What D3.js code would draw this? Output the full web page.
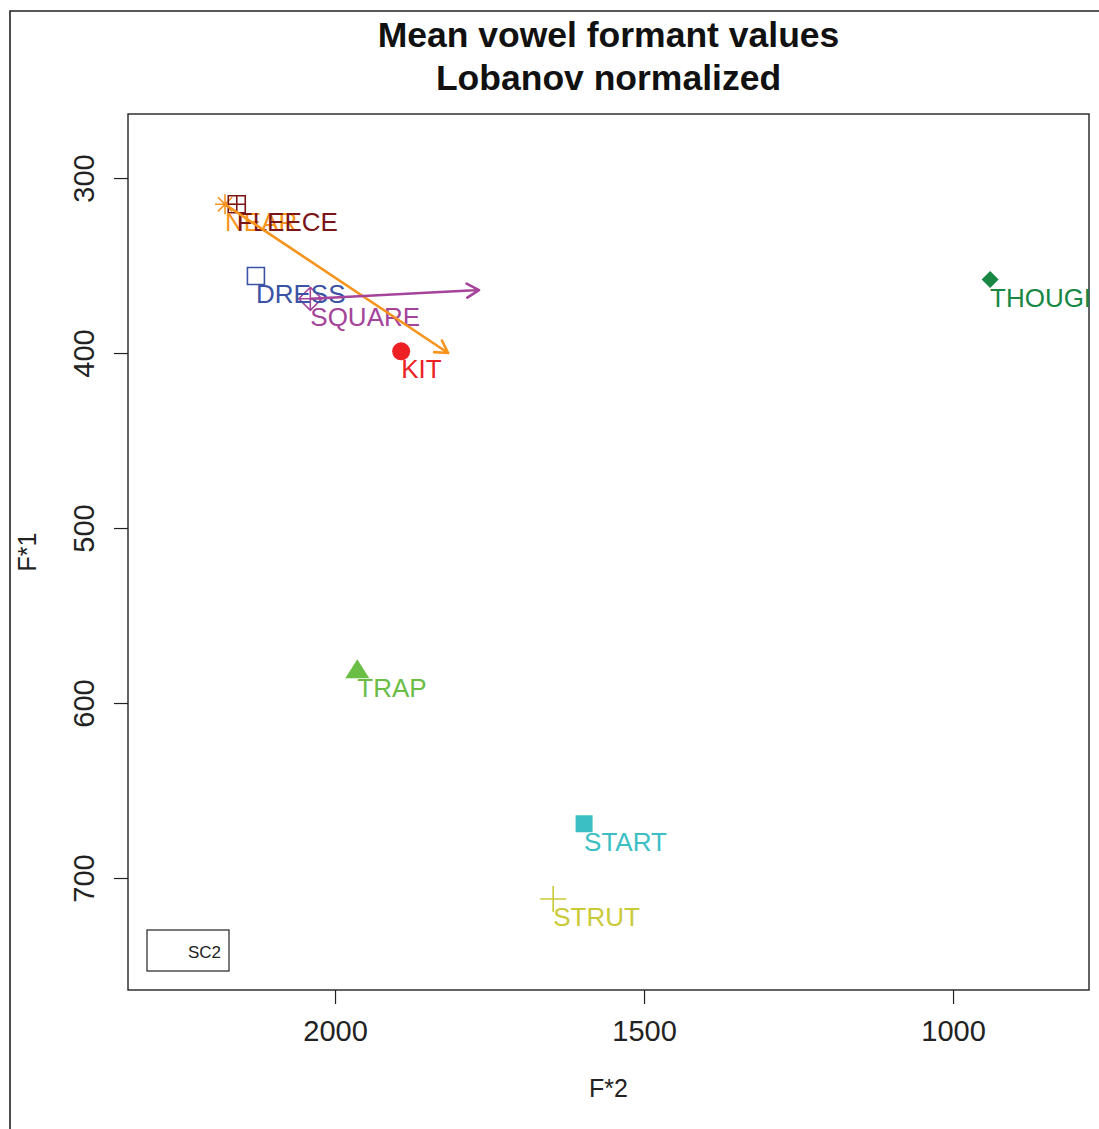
<!DOCTYPE html>
<html>
<head>
<meta charset="utf-8">
<script src="https://cdn.jsdelivr.net/npm/d3@7"></script>
<style>
  html, body { margin: 0; padding: 0; background: #fff; }
  svg { display: block; }
  text { font-family: "Liberation Sans", Arial, Helvetica, sans-serif; }
</style>
</head>
<body>
<script>
// ---- data ----
const vowels = ["NEAR", "FLEECE", "DRESS", "SQUARE", "KIT", "THOUGHT", "TRAP", "START", "STRUT"];
const f2Values = [2178, 2159, 2128, 2040, 1893, 940, 1964, 1597, 1647];
const f1Values = [315, 315, 356, 369, 399, 358, 581, 669, 712];
const vowelColors = ["#F7941D", "#7A1416", "#3A53A4", "#A4449B", "#ED2024", "#178743", "#6ABD45", "#3BBFC5", "#CACA38"];
const vowelShapes = ["asterisk", "squarePlus", "squareOpen", "diamondPlus", "circle", "diamond", "triangle", "squareFilled", "plus"];

const arrowVowels = ["NEAR", "SQUARE"];
const arrowF2End = [1817, 1767];
const arrowF1End = [400, 364];

const xTicks = [2000, 1500, 1000];
const yTicks = [300, 400, 500, 600, 700];
const titleLines = ["Mean vowel formant values", "Lobanov normalized"];
const legendLabel = "SC2";

// ---- layout ----
const W = 1099, H = 1129;
const plot = { left: 128, right: 1089, top: 114, bottom: 990 };

const svg = d3.select("body").append("svg").attr("width", W).attr("height", H);

// outer frame
svg.append("path")
  .attr("d", `M10,${H + 5} L10,11 L${W + 5},11`)
  .attr("fill", "none").attr("stroke", "#222").attr("stroke-width", 1.6);

const x = d3.scaleLinear().domain([2335, 780]).range([plot.left, plot.right]);
const y = d3.scaleLinear().domain([263.4, 764]).range([plot.top, plot.bottom]);

// clip
svg.append("defs").append("clipPath").attr("id", "clip")
  .append("rect").attr("x", plot.left).attr("y", plot.top)
  .attr("width", plot.right - plot.left).attr("height", plot.bottom - plot.top);

// title
svg.append("g").selectAll("text").data(titleLines).join("text")
  .attr("x", (plot.left + plot.right) / 2)
  .attr("y", (d, i) => 47 + i * 43)
  .attr("text-anchor", "middle")
  .attr("font-weight", "bold")
  .attr("font-size", 35.5)
  .attr("fill", "#111")
  .text(d => d);

// axes
const xAxis = d3.axisBottom(x).tickValues(xTicks).tickSize(14).tickPadding(16).tickFormat(d3.format("d"));
const gx = svg.append("g").attr("transform", `translate(0,${plot.bottom})`).call(xAxis);
gx.select(".domain").remove();
gx.selectAll("line").attr("stroke", "#222").attr("stroke-width", 1.2);
gx.selectAll("text").attr("font-size", 29).attr("fill", "#222")
  .attr("font-family", "Liberation Sans, Arial, sans-serif");

const yAxis = d3.axisLeft(y).tickValues(yTicks).tickSize(14).tickFormat(d3.format("d"));
const gy = svg.append("g").attr("transform", `translate(${plot.left},0)`).call(yAxis);
gy.select(".domain").remove();
gy.selectAll("line").attr("stroke", "#222").attr("stroke-width", 1.2);
gy.selectAll("text")
  .attr("font-size", 29).attr("fill", "#222")
  .attr("font-family", "Liberation Sans, Arial, sans-serif")
  .attr("text-anchor", "middle")
  .attr("x", null).attr("dy", null)
  .attr("transform", `translate(${94 - plot.left},0) rotate(-90)`)
  .attr("y", 0);

// plot box
svg.append("rect").attr("x", plot.left).attr("y", plot.top)
  .attr("width", plot.right - plot.left).attr("height", plot.bottom - plot.top)
  .attr("fill", "none").attr("stroke", "#222").attr("stroke-width", 1.4);

// axis titles
svg.append("text").attr("x", (plot.left + plot.right) / 2).attr("y", 1097)
  .attr("text-anchor", "middle").attr("font-size", 25).attr("fill", "#222").text("F*2");
svg.append("text").attr("transform", `translate(36,${(plot.top + plot.bottom) / 2}) rotate(-90)`)
  .attr("text-anchor", "middle").attr("font-size", 25).attr("fill", "#222").text("F*1");

// data layer
const g = svg.append("g").attr("clip-path", "url(#clip)");
const pts = vowels.map((v, i) => ({ v, f2: f2Values[i], f1: f1Values[i], c: vowelColors[i], s: vowelShapes[i] }));

function symbolPath(s) {
  switch (s) {
    case "asterisk": { const a = 10, b = 7.1; return `M${-a},0L${a},0M0,${-a}L0,${a}M${-b},${-b}L${b},${b}M${-b},${b}L${b},${-b}`; }
    case "squarePlus": { const a = 8.5; return `M${-a},${-a}H${a}V${a}H${-a}ZM${-a},0H${a}M0,${-a}V${a}`; }
    case "squareOpen": { const a = 8.5; return `M${-a},${-a}H${a}V${a}H${-a}Z`; }
    case "diamondPlus": { const a = 11.5; return `M0,${-a}L${a},0L0,${a}L${-a},0ZM${-a},0H${a}M0,${-a}V${a}`; }
    case "circle": return null;
    case "diamond": { const a = 8.5; return `M0,${-a}L${a},0L0,${a}L${-a},0Z`; }
    case "triangle": { const h = 19, w = 12; return `M0,${-h * 0.55}L${w},${h * 0.45}L${-w},${h * 0.45}Z`; }
    case "squareFilled": { const a = 8.5; return `M${-a},${-a}H${a}V${a}H${-a}Z`; }
    case "plus": { const a = 13; return `M${-a},0H${a}M0,${-a}V${a}`; }
  }
}
const filled = new Set(["diamond", "triangle", "squareFilled"]);

pts.forEach(p => {
  const px = x(p.f2), py = y(p.f1);
  if (p.s === "circle") {
    g.append("circle").attr("cx", px).attr("cy", py).attr("r", 9).attr("fill", p.c);
  } else {
    g.append("path").attr("transform", `translate(${px},${py})`)
      .attr("d", symbolPath(p.s))
      .attr("fill", filled.has(p.s) ? p.c : "none")
      .attr("stroke", filled.has(p.s) ? "none" : p.c)
      .attr("stroke-width", 1.6);
  }
});

// labels
g.append("g").selectAll("text").data(pts).join("text")
  .attr("x", d => x(d.f2))
  .attr("y", d => y(d.f1) + 27)
  .attr("font-size", 26)
  .attr("fill", d => d.c)
  .text(d => d.v);

// arrows
arrowVowels.forEach((v, i) => {
  const idx = vowels.indexOf(v);
  const x0 = x(f2Values[idx]), y0 = y(f1Values[idx]);
  const x1 = x(arrowF2End[i]), y1 = y(arrowF1End[i]);
  const ang = Math.atan2(y1 - y0, x1 - x0);
  const L = 14, A = Math.PI / 6;
  const hx1 = x1 - L * Math.cos(ang - A), hy1 = y1 - L * Math.sin(ang - A);
  const hx2 = x1 - L * Math.cos(ang + A), hy2 = y1 - L * Math.sin(ang + A);
  g.append("path")
    .attr("d", `M${x0},${y0}L${x1},${y1}M${hx1},${hy1}L${x1},${y1}L${hx2},${hy2}`)
    .attr("fill", "none").attr("stroke", vowelColors[idx])
    .attr("stroke-width", 2.6).attr("stroke-linecap", "round").attr("stroke-linejoin", "round");
});

// legend box
svg.append("rect").attr("x", 147).attr("y", 930).attr("width", 82).attr("height", 41)
  .attr("fill", "#fff").attr("stroke", "#222").attr("stroke-width", 1.2);
svg.append("text").attr("x", 221).attr("y", 958).attr("text-anchor", "end")
  .attr("font-size", 17).attr("fill", "#222").text(legendLabel);
</script>
</body>
</html>
